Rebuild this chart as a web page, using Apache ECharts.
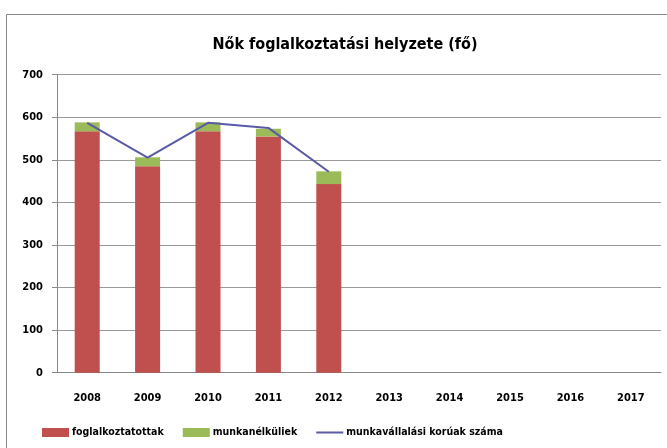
<!DOCTYPE html>
<html>
<head>
<meta charset="utf-8">
<script src="https://cdn.jsdelivr.net/npm/echarts@6/dist/echarts.min.js"></script>
<style>
  html, body { margin: 0; padding: 0; background: #fff; }
  #chart { width: 667px; height: 448px; }
</style>
</head>
<body>
<div id="chart"></div>
<script>
const years = ['2008', '2009', '2010', '2011', '2012', '2013', '2014', '2015', '2016', '2017'];
const employed = [567, 485, 567, 555, 443, null, null, null, null, null];
const unemployed = [21, 21, 21, 18, 30, null, null, null, null, null];
const workingAge = [587, 505, 587, 575, 472, null, null, null, null, null];

const font = "'DejaVu Sans Condensed', sans-serif";
// thin line icon inside a 27x9 box for the line series legend entry
const lineIcon = 'path://M0,0 L0,0 Z M0,3.5 L27,3.5 L27,5.5 L0,5.5 Z M27,9 L27,9 Z';

const myChart = echarts.init(document.getElementById('chart'));
const option = {
  backgroundColor: '#fff',
  color: ['#C0504D', '#9BBB59', '#5A5AA6'],
  animation: false,
  title: {
    text: 'Nők foglalkoztatási helyzete (fő)',
    left: 340,
    top: 32,
    textAlign: 'center',
    textStyle: { fontFamily: font, fontWeight: 'bold', fontSize: 16, color: '#000' },
  },
  graphic: [{
    type: 'rect',
    shape: { x: 6.5, y: 14.5, width: 680, height: 460 },
    style: { fill: null, stroke: '#888', lineWidth: 1 },
    silent: true,
  }],
  legend: {
    left: 42,
    top: 427,
    padding: 0,
    itemWidth: 27,
    itemHeight: 9,
    itemGap: 19,
    icon: 'rect',
    textStyle: { fontFamily: font, fontWeight: 'bold', fontSize: 10.5, color: '#000', padding: [0, 0, 0, -2] },
    data: [
      'foglalkoztatottak',
      'munkanélküliek',
      { name: 'munkavállalási korúak száma', icon: lineIcon },
    ],
  },
  grid: {
    left: 57,
    right: 6,
    top: 74.7,
    bottom: 75.3,
  },
  xAxis: {
    type: 'category',
    data: years,
    boundaryGap: true,
    axisLine: { lineStyle: { color: '#888' } },
    axisTick: { length: 5, lineStyle: { color: '#888' } },
    axisLabel: { margin: 20, fontFamily: font, fontWeight: 'bold', fontSize: 11, color: '#000' },
  },
  yAxis: {
    type: 'value',
    min: 0,
    max: 700,
    interval: 100,
    axisLine: { show: true, lineStyle: { color: '#888' } },
    axisTick: { show: true, length: 5, lineStyle: { color: '#888' } },
    axisLabel: { margin: 14, fontFamily: font, fontWeight: 'bold', fontSize: 11, color: '#000' },
    splitLine: { lineStyle: { color: '#999', width: 1 } },
  },
  series: [
    {
      name: 'foglalkoztatottak',
      type: 'bar',
      stack: 'total',
      barWidth: 25,
      data: employed,
    },
    {
      name: 'munkanélküliek',
      type: 'bar',
      stack: 'total',
      barWidth: 25,
      data: unemployed,
    },
    {
      name: 'munkavállalási korúak száma',
      type: 'line',
      symbol: 'none',
      lineStyle: { width: 2 },
      data: workingAge,
    },
  ],
};
myChart.setOption(option);
</script>
</body>
</html>
